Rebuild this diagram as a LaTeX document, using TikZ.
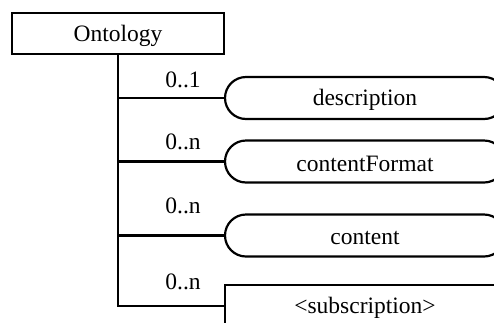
\documentclass[tikz,border=0pt]{standalone}
\usepackage{fontspec}
\setmainfont{Liberation Serif}
\usetikzlibrary{shapes.misc}
\newcommand{\lowtxt}[1]{\raisebox{-2pt}[\height][\depth]{#1}}
\begin{document}
\begin{tikzpicture}[x=1pt,y=-1pt,
  every node/.style={font=\fontsize{23.5}{28}\selectfont, inner sep=0pt},
  box/.style={draw, line width=2.2pt, rectangle, minimum height=41pt},
  rbox/.style={draw, line width=2.2pt, rounded rectangle, minimum width=280pt, minimum height=42pt},
  link/.style={line width=2.2pt},
  card/.style={anchor=center}]
\useasboundingbox (0,0) rectangle (494,322);
\clip (0,0) rectangle (494,322);
\node[box, minimum width=212pt] (ont) at (118,33.5) {\lowtxt{Ontology}};
\node[rbox] (desc) at (365,98) {\lowtxt{description}};
\node[rbox] (fmt) at (365,161.5) {\lowtxt{contentFormat}};
\node[rbox] (cont) at (365,235.5) {\lowtxt{content}};
\node[box, minimum width=280pt, minimum height=42pt] (subs) at (365,306) {\lowtxt{<subscription>}};
\coordinate (j1) at (ont.south |- desc.west);
\coordinate (j2) at (ont.south |- fmt.west);
\coordinate (j3) at (ont.south |- cont.west);
\coordinate (j4) at (ont.south |- subs.west);
\draw[link] (ont.south) -- (j4) -- (subs.west);
\draw[link] (j1) -- (desc.west);
\draw[link] (j2) -- (fmt.west);
\draw[link] (j3) -- (cont.west);
\node[card] (c1) at (183,80) {0..1};
\node[card] (c2) at (183,142) {0..n};
\node[card] (c3) at (183,206) {0..n};
\node[card] (c4) at (183,282) {0..n};
\end{tikzpicture}
\end{document}
